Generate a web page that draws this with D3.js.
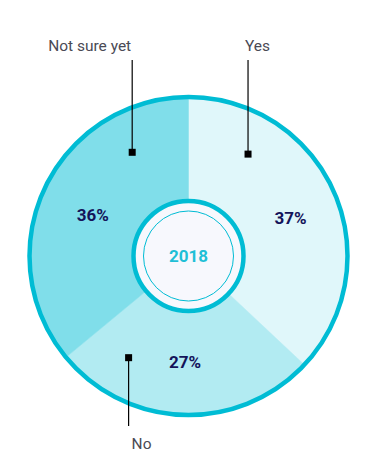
<!DOCTYPE html>
<html>
<head>
<meta charset="utf-8">
<script src="https://cdn.jsdelivr.net/npm/d3@7"></script>
<style>
  body { margin: 0; background: #fff; }
  svg text { font-family: Roboto, "Noto Sans", sans-serif; }
</style>
</head>
<body>
<svg id="chart" width="375" height="466"></svg>
<script>
// answers for 2018
var categories = ["Yes", "No", "Not sure yet"];
var values = [37, 27, 36];
var year = "2018";

var colors = ["#e0f7fa", "#b2ebf2", "#80deea"];
// where the callout sits on each slice (deg from top) and which way it runs
var callouts = [
  { angle: 30.3, dir: -1, anchor: "start", dx: -3 },
  { angle: 210.5, dir: 1, anchor: "start", dx: 3 },
  { angle: 331.5, dir: -1, anchor: "end", dx: -1 }
];
// small nudges for the percentage labels
var pctNudge = [[3, 5], [0, -2], [2, 5]];

var svg = d3.select("#chart");
var cx = 188.5, cy = 256;
var outerR = 159, innerR = 57;

var g = svg.append("g").attr("transform", "translate(" + cx + "," + cy + ")");

var pie = d3.pie().sort(null).value(function(d) { return d; });
var arcs = pie(values);

var arc = d3.arc().innerRadius(0).outerRadius(outerR);
var labelArc = d3.arc().innerRadius(innerR).outerRadius(outerR);

g.selectAll("path.slice")
  .data(arcs)
  .enter()
  .append("path")
  .attr("class", "slice")
  .attr("d", arc)
  .style("fill", function(d, i) { return colors[i]; })
  .style("stroke", function(d, i) { return colors[i]; })
  .style("stroke-width", 0.5);

g.append("circle")
  .attr("r", outerR)
  .style("fill", "none")
  .style("stroke", "#00bcd4")
  .style("stroke-width", 4.5);

// center
g.append("circle")
  .attr("r", innerR - 2)
  .style("fill", "#f7f8fd")
  .style("stroke", "#00bcd4")
  .style("stroke-width", 4.5);
g.append("circle")
  .attr("r", 45)
  .style("fill", "none")
  .style("stroke", "#00bcd4")
  .style("stroke-width", 1);
g.append("text")
  .attr("text-anchor", "middle")
  .attr("dy", "0.35em")
  .style("font-size", "17px")
  .style("font-weight", "bold")
  .style("fill", "#1fbfd6")
  .text(year);

// percentages
g.selectAll("text.pct")
  .data(arcs)
  .enter()
  .append("text")
  .attr("class", "pct")
  .attr("transform", function(d, i) {
    var c = labelArc.centroid(d);
    return "translate(" + (c[0] + pctNudge[i][0]) + "," + (c[1] + pctNudge[i][1]) + ")";
  })
  .attr("text-anchor", "middle")
  .attr("dy", "0.35em")
  .style("font-size", "17px")
  .style("font-weight", "bold")
  .style("fill", "#14145a")
  .text(function(d) { return d.data + "%"; });

// callouts
var markR = 118;
callouts.forEach(function(c, i) {
  var a = c.angle * Math.PI / 180;
  var mx = cx + markR * Math.sin(a);
  var my = cy - markR * Math.cos(a);
  var endY = c.dir < 0 ? 60 : 426;
  svg.append("line")
    .attr("x1", mx).attr("y1", my)
    .attr("x2", mx).attr("y2", endY)
    .style("stroke", "#000")
    .style("stroke-width", 1.2);
  svg.append("rect")
    .attr("x", mx - 3.5).attr("y", my - 3.5)
    .attr("width", 7).attr("height", 7)
    .style("fill", "#000");
  svg.append("text")
    .attr("x", mx + c.dx)
    .attr("y", c.dir < 0 ? 51 : 449)
    .attr("text-anchor", c.anchor)
    .style("font-size", "15.5px")
    .style("fill", "#4a4a55")
    .text(categories[i]);
});
</script>
</body>
</html>
